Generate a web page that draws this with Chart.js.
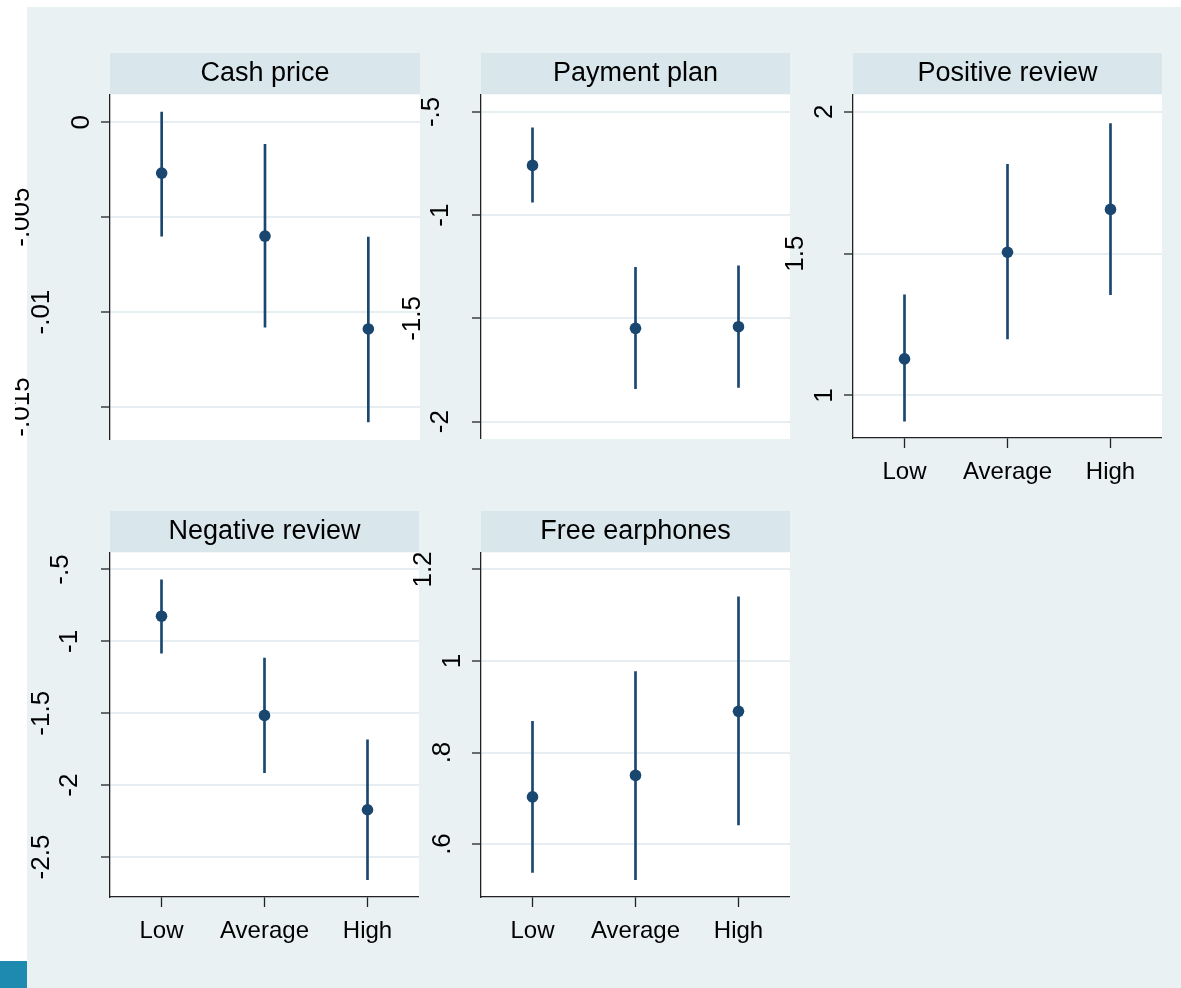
<!DOCTYPE html>
<html><head><meta charset="utf-8">
<script src="https://cdn.jsdelivr.net/npm/chart.js@4.4.1/dist/chart.umd.min.js"></script>
<style>
html,body{margin:0;padding:0;background:#fff;}
#page{position:relative;width:1181px;height:988px;overflow:hidden;background:#fff;}
#bg{position:absolute;left:27px;top:7px;width:1154px;height:981px;background:#E9F1F3;}
#sq{position:absolute;left:0;top:961px;width:27px;height:27px;background:#1E8AB0;}
canvas{position:absolute;}
</style></head>
<body><div id="page"><div id="bg"></div><div id="sq"></div></div>
<script>
// ---------- data ----------
const categories = ['Low', 'Average', 'High'];

const cashEst = [-0.00268, -0.00600, -0.01089];
const cashLo  = [-0.00600, -0.01079, -0.01579];
const cashHi  = [ 0.00053, -0.00116, -0.00605];
const cashTicks = [0, -0.005, -0.01, -0.015];
const cashTickLabels = ['0', '-.005', '-.01', '-.015'];

const planEst = [-0.759, -1.548, -1.540];
const planLo  = [-0.937, -1.840, -1.834];
const planHi  = [-0.577, -1.253, -1.245];
const planTicks = [-0.5, -1, -1.5, -2];
const planTickLabels = ['-.5', '-1', '-1.5', '-2'];

const posEst = [1.129, 1.505, 1.656];
const posLo  = [0.909, 1.199, 1.355];
const posHi  = [1.355, 1.815, 1.959];
const posTicks = [2, 1.5, 1];
const posTickLabels = ['2', '1.5', '1'];

const negEst = [-0.825, -1.515, -2.171];
const negLo  = [-1.082, -1.913, -2.657];
const negHi  = [-0.572, -1.117, -1.684];
const negTicks = [-0.5, -1, -1.5, -2, -2.5];
const negTickLabels = ['-.5', '-1', '-1.5', '-2', '-2.5'];

const earEst = [0.703, 0.750, 0.890];
const earLo  = [0.538, 0.522, 0.642];
const earHi  = [0.868, 0.977, 1.140];
const earTicks = [1.2, 1, 0.8, 0.6];
const earTickLabels = ['1.2', '1', '.8', '.6'];

// ---------- style ----------
const FONT = '"Liberation Sans", Arial, Helvetica, sans-serif';
const NAVY = '#1A476F';
const GRID = '#E6EEF1';
const AXIS = '#222222';
const STRIP = '#D9E6EB';
const YAXIS_W = 95, XAXIS_H = 60;

const panelBg = {
  id: 'panelBg',
  beforeDraw(chart) {
    const {ctx, chartArea: a} = chart;
    const tb = chart.titleBlock;
    ctx.save();
    ctx.fillStyle = '#ffffff';
    ctx.fillRect(a.left, a.top, a.right - a.left, a.bottom - a.top);
    ctx.fillStyle = STRIP;
    ctx.fillRect(a.left, tb.top, a.right - a.left, a.top - tb.top);
    ctx.restore();
  }
};

// vertical (rotated) y tick labels, placed from the scale's own ticks
const rotY = {
  id: 'rotY',
  afterDraw(chart) {
    const s = chart.scales.y, ctx = chart.ctx;
    ctx.save();
    ctx.font = '26px ' + FONT;
    ctx.fillStyle = '#000';
    ctx.textAlign = 'center';
    ctx.textBaseline = 'middle';
    s.ticks.forEach((t, i) => {
      const lbl = t.label;
      const w = ctx.measureText(lbl).width;
      const y = s.getPixelForTick(i);
      const x = s.right - (10 + 1.33 * w);
      ctx.setTransform(1, 0, 0, 1, x, y);
      ctx.rotate(-Math.PI / 2);
      ctx.fillText(lbl, 0, 1);
    });
    ctx.restore();
  }
};

function makePanel(p) {
  const left = p.plotLeft - YAXIS_W;
  const width = p.plotRight - left;
  const xh = p.showX ? XAXIS_H : 0;
  const height = p.plotBottom + xh - p.titleTop;
  const cv = document.createElement('canvas');
  cv.width = width; cv.height = height;
  cv.style.left = left + 'px'; cv.style.top = p.titleTop + 'px';
  cv.style.width = width + 'px'; cv.style.height = height + 'px';
  document.getElementById('page').appendChild(cv);

  new Chart(cv.getContext('2d'), {
    type: 'bar',
    data: {
      labels: categories,
      datasets: [
        { type: 'bar', data: p.lo.map((l, i) => [l, p.hi[i]]), backgroundColor: NAVY,
          barThickness: 2, borderWidth: 0, order: 2 },
        { type: 'line', data: p.est, showLine: false, pointRadius: 5.8, pointHoverRadius: 5.8,
          pointBackgroundColor: NAVY, pointBorderWidth: 0, order: 1 }
      ]
    },
    options: {
      responsive: false, animation: false, devicePixelRatio: 1,
      layout: { padding: 0, autoPadding: false },
      plugins: {
        legend: { display: false }, tooltip: { enabled: false },
        title: { display: true, text: p.title, fullSize: false, color: '#000',
                 font: { family: FONT, size: 27, weight: 'normal', lineHeight: 1.2 },
                 padding: { top: 4.5, bottom: 4.3 } }
      },
      scales: {
        x: {
          type: 'category', offset: true, display: p.showX,
          afterFit: s => { s.height = xh; },
          grid: { offset: false, drawOnChartArea: false, drawTicks: true, tickLength: 10,
                  tickColor: AXIS, tickWidth: 1.3 },
          border: { display: true, color: AXIS, width: 1.3 },
          ticks: { color: '#000', font: { family: FONT, size: 24 }, padding: 10,
                   maxRotation: 0, autoSkip: false }
        },
        y: {
          min: p.min, max: p.max,
          afterBuildTicks: s => { s.ticks = p.ticks.map(v => ({ value: v })); },
          afterFit: s => { s.width = YAXIS_W; },
          ticks: { display: false, callback: (v, i) => p.tickLabels[i] },
          grid: { color: GRID, lineWidth: 2, drawTicks: true, tickLength: 9,
                  tickColor: AXIS, tickWidth: 1.3 },
          border: { display: true, color: AXIS, width: 1.3 }
        }
      }
    },
    plugins: [panelBg, rotY]
  });
}

const panels = [
  { title: 'Cash price', est: cashEst, lo: cashLo, hi: cashHi, ticks: cashTicks, tickLabels: cashTickLabels,
    min: -0.016737, max: 0.001474, plotLeft: 110, plotRight: 420, titleTop: 53, plotBottom: 440, showX: false },
  { title: 'Payment plan', est: planEst, lo: planLo, hi: planHi, ticks: planTicks, tickLabels: planTickLabels,
    min: -2.0837, max: -0.4144, plotLeft: 481, plotRight: 790, titleTop: 53, plotBottom: 439, showX: false },
  { title: 'Positive review', est: posEst, lo: posLo, hi: posHi, ticks: posTicks, tickLabels: posTickLabels,
    min: 0.85, max: 2.0623, plotLeft: 853, plotRight: 1162, titleTop: 53, plotBottom: 438, showX: true },
  { title: 'Negative review', est: negEst, lo: negLo, hi: negHi, ticks: negTicks, tickLabels: negTickLabels,
    min: -2.778, max: -0.3797, plotLeft: 110, plotRight: 419, titleTop: 511, plotBottom: 897, showX: true },
  { title: 'Free earphones', est: earEst, lo: earLo, hi: earHi, ticks: earTicks, tickLabels: earTickLabels,
    min: 0.4842, max: 1.2378, plotLeft: 481, plotRight: 790, titleTop: 511, plotBottom: 897, showX: true }
];
panels.forEach(makePanel);
</script>
</body></html>
